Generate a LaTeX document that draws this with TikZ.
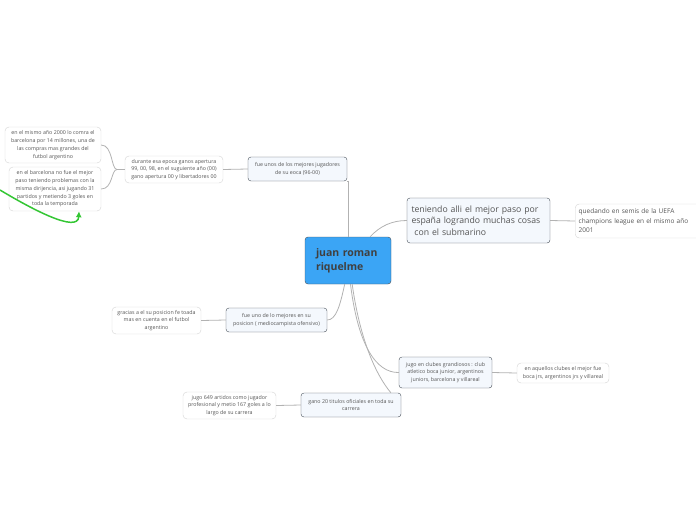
\documentclass[tikz,border=0pt]{standalone}
\usepackage{fontspec}
\setsansfont{Open Sans}
\usetikzlibrary{arrows.meta}

\definecolor{mainblue}{RGB}{59,165,245}
\definecolor{subfill}{RGB}{244,248,253}
\definecolor{darkline}{RGB}{70,78,88}
\definecolor{leafline}{RGB}{212,212,212}
\definecolor{linkgray}{RGB}{178,178,178}
\definecolor{textgray}{RGB}{85,85,85}
\definecolor{arrowgreen}{RGB}{52,198,52}

\begin{document}
\begin{tikzpicture}[x=1pt, y=-1pt, every node/.style={font=\sffamily},
  topic/.style={draw=darkline, fill=subfill, rounded corners=3pt, align=center,
    text=textgray, inner sep=2pt, font=\sffamily\fontsize{5.3}{7.8}\selectfont},
  leaf/.style={draw=leafline, fill=white, rounded corners=4pt, align=center,
    text=textgray, inner sep=2pt, font=\sffamily\fontsize{5.3}{7.8}\selectfont},
  link/.style={draw=linkgray, line width=0.8pt}]
\useasboundingbox (0,0) rectangle (696,520);

% Central topic
\node[draw=darkline, fill=mainblue, rounded corners=3pt, text=black!75,
  minimum width=86, minimum height=47, text width=64, align=left,
  font=\sffamily\bfseries\fontsize{10.5}{14}\selectfont] (root) at (348,260.5)
  {juan roman\\riquelme};

% Upper branch
\node[topic, minimum width=99, minimum height=24] (best) at (297.5,169)
  {fue unos de los mejores jugadores\\de su eoca (96-00)};
\node[leaf, minimum width=98, minimum height=27] (titles) at (174,169.5)
  {durante esa epoca ganos apertura\\99, 00, 98, en el suguiente año (00)\\gano apertura 00 y libertadores 00};
\node[leaf, minimum width=96, minimum height=36] (bought) at (53,145)
  {en el mismo año 2000 lo comra el\\barcelona por 14 millones, una de\\las compras mas grandes del\\futbol argentino};
\node[leaf, minimum width=92, minimum height=44] (barca) at (55,189)
  {en el barcelona no fue el mejor\\paso teniendo problemas con la\\misma dirijencia, asi jugando 31\\partidos y metiendo 3 goles en\\toda la temporada};

% Spain branch
\node[topic, minimum width=143, minimum height=45, text width=134, align=left,
  font=\sffamily\fontsize{8.7}{11.5}\selectfont] (spain) at (478.5,220.5)
  {teniendo alli el mejor paso por\\españa logrando muchas cosas\\\ con el submarino};
\node[leaf, anchor=west, minimum width=125, minimum height=34, text width=118, align=left,
  font=\sffamily\fontsize{6.5}{9.5}\selectfont] (semis) at (575,221)
  {quedando en semis de la UEFA\\champions league en el mismo año\\2001};

% Position branch
\node[topic, minimum width=101, minimum height=24] (position) at (276.5,320)
  {fue uno de lo mejores en su\\posicion ( mediocampista ofensivo)};
\node[leaf, minimum width=89, minimum height=27] (football) at (156.5,320.5)
  {gracias a el su posicion fe toada\\mas en cuenta en el futbol\\argentino};

% Clubs branch
\node[topic, minimum width=93, minimum height=31] (clubs) at (445.5,372.5)
  {jugo en clubes grandiosos : club\\atletico boca junior, argentinos\\juniors, barcelona y villareal};
\node[leaf, minimum width=92, minimum height=20] (bestclub) at (563,373)
  {en aquellos clubes el mejor fue\\boca jrs, argentinos jrs y villareal};

% Trophies branch
\node[topic, minimum width=100, minimum height=24] (trophies) at (351,405)
  {gano 20 titulos oficiales en toda su\\carrera};
\node[leaf, minimum width=93, minimum height=27] (games) at (229.5,405.5)
  {jugo 649 artidos como jugador\\profesional y metio 167 goles a lo\\largo de su carrera};

% Connectors
\coordinate (fork) at (117,169.5);
\draw[link] (root.north) -- (root.north |- best.south) -- (best.east |- best.south);
\draw[link] (best.west) -- (titles.east);
\draw[link] (titles.west) -- (fork);
\draw[link] (fork) .. controls (111,169.5) and (113,145) .. (bought.east);
\draw[link] (fork) .. controls (111,169.5) and (113,189) .. (barca.east);
\draw[link] (root.47) .. controls (380,226) and (392,220.5) .. (spain.west);
\draw[link] (spain.east) -- (semis.west);
\draw[link] (root.-98) .. controls (340,306) and (336,320) .. (position.east);
\draw[link] (position.west) -- (football.east);
\draw[link] (root.-84) .. controls (358,345) and (376,373) .. (clubs.west);
\draw[link] (clubs.east) -- (bestclub.west);
\draw[link] (root.-80) .. controls (360,340) and (376,375) .. (trophies.17);
\draw[link] (trophies.west) -- (games.east);

% Green arrow
\coordinate (gstart) at (0,190);
\draw[arrowgreen, line width=1.5pt, -{Latex[length=6pt,width=6pt]}]
  (gstart) .. controls (30,208) and (78,234) .. (barca.south -| 79,0);
\end{tikzpicture}
\end{document}
